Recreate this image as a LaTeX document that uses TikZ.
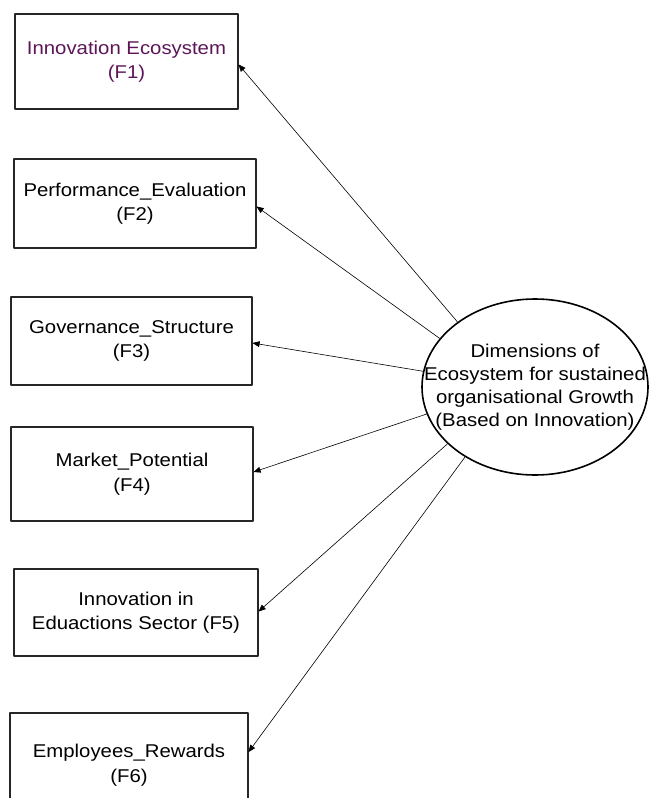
\documentclass[tikz,border=0pt]{standalone}
\usepackage{fontspec}
\setmainfont{Liberation Sans}[FakeStretch=1.1]
\usepackage{tikz}
\usetikzlibrary{arrows,shapes.geometric}
\definecolor{plum}{RGB}{92,22,88}

\begin{document}
\begin{tikzpicture}[line cap=round,line join=round,>=triangle 45,x=1pt,y=-1pt,
  factor/.style={draw=black!85,line width=1.1pt,rectangle,inner sep=0pt,align=center,
    font=\fontsize{18.5}{24.5}\selectfont},
  dim/.style={draw,line width=1.6pt,ellipse,inner xsep=-40pt,inner ysep=0pt,minimum width=226pt,minimum height=176pt,
    align=center,font=\fontsize{18.5}{23}\selectfont},
  link/.style={->,line width=0.6pt}]
\clip(0,0) rectangle (650,798);
\node (f1) at (126.5,61.5) [factor,minimum width=223pt,minimum height=95pt,text=plum] {Innovation Ecosystem\\(F1)};
\node (f2) at (135,203.5) [factor,minimum width=242pt,minimum height=89pt] {Performance\_Evaluation\\(F2)};
\node (f3) at (131.5,341) [factor,minimum width=241pt,minimum height=88pt] {Governance\_Structure\\(F3)};
\node (f4) at (132,474) [factor,minimum width=242pt,minimum height=94pt] {Market\_Potential\\(F4)};
\node (f5) at (136,612.5) [factor,minimum width=244pt,minimum height=87pt] {Innovation in\\Eduactions Sector (F5)};
\node (f6) at (129,765) [factor,minimum width=238pt,minimum height=104pt] {Employees\_Rewards\\(F6)};
\node (eco) at (535,387) [dim] {Dimensions of\\Ecosystem for sustained\\organisational Growth\\(Based on Innovation)};
%arrows from the dimension to each factor
\draw [link] (eco.140) -- ([yshift=-3pt]f1.east);
\draw [link] (eco.153) -- ([yshift=-3pt]f2.east);
\draw [link] (eco.172) -- ([yshift=-2pt]f3.east);
\draw [link] (eco.194) -- ([yshift=2pt]f4.east);
\draw [link] (eco.213) -- ([yshift=1pt]f5.east);
\draw [link] (eco.225) -- ([yshift=13pt]f6.east);
\end{tikzpicture}
\end{document}
